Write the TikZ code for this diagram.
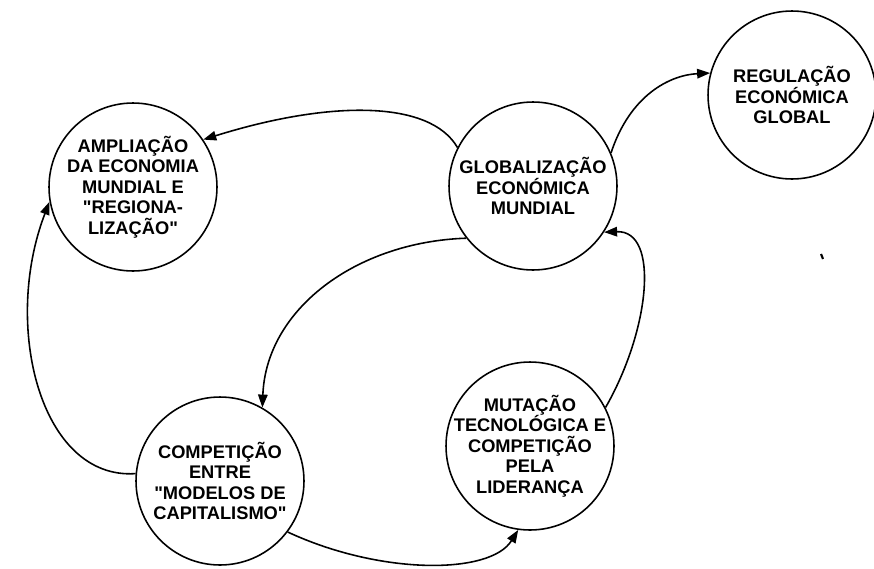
\documentclass[tikz,border=0pt]{standalone}
\usepackage{fontspec}
\setmainfont{Liberation Sans}
\usetikzlibrary{arrows.meta}

\begin{document}
\begin{tikzpicture}[x=0.02cm, y=-0.02cm, line width=0.9pt,
  every node/.append style={font=\bfseries\fontsize{10.4}{11.6}\selectfont, align=center},
  etapa/.style={draw, circle, minimum size=3.36cm, inner sep=0pt},
  seta/.style={-{Triangle[length=2.6mm, width=1.9mm]}}]
  \useasboundingbox (0,0) rectangle (874,568);
  % círculos
  \node[etapa, label=center:{AMPLIAÇÃO\\DA ECONOMIA\\MUNDIAL E\\\textquotedbl REGIONA-\\LIZAÇÃO\textquotedbl}] (ampl) at (133,187) {};
  \node[etapa, label=center:{GLOBALIZAÇÃO\\ECONÓMICA\\MUNDIAL}] (glob) at (533,186) {};
  \node[etapa, label=center:{REGULAÇÃO\\ECONÓMICA\\GLOBAL}] (regul) at (792,95) {};
  \node[etapa, label=center:{COMPETIÇÃO\\ENTRE\\\textquotedbl MODELOS DE\\CAPITALISMO\textquotedbl}] (comp) at (220,481) {};
  \node[etapa, label=center:{MUTAÇÃO\\TECNOLÓGICA E\\COMPETIÇÃO\\PELA\\LIDERANÇA}] (mut) at (530,446) {};
  % setas
  \draw[seta] (glob.153) .. controls (430,100) and (330,100) .. (ampl.34);
  \draw[seta] (glob.23) .. controls (630,95) and (670,75) .. (regul.165);
  \draw[seta] (glob.218) .. controls (355,242) and (266,310) .. (comp.60);
  \draw[seta] (comp.-37) .. controls (380,575) and (490,575) .. (mut.262);
  \draw[seta] (mut.27) .. controls (650,330) and (660,230) .. (glob.-33);
  \draw[seta] (comp.175) .. controls (40,480) and (2,325) .. (ampl.190);
  % mancha
  \draw[line width=1.2pt] (821,254) -- (823,259);
\end{tikzpicture}
\end{document}
